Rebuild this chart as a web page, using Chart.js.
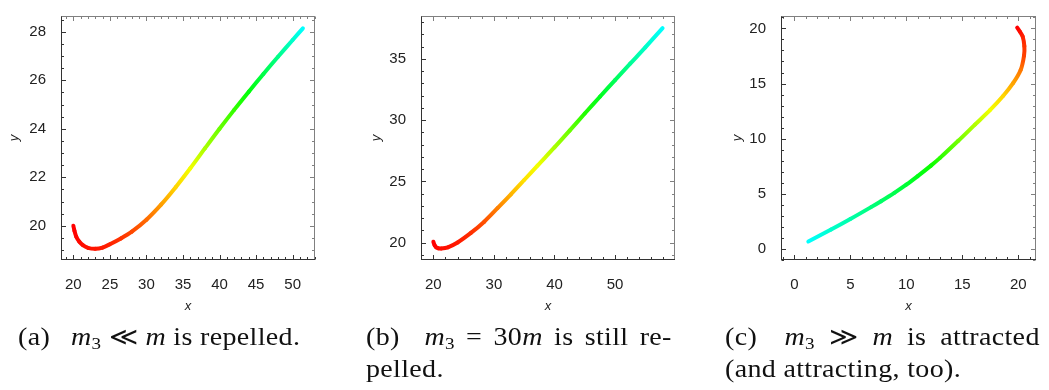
<!DOCTYPE html>
<html><head><meta charset="utf-8">
<script src="https://cdn.jsdelivr.net/npm/chart.js@4"></script>
<style>
body{margin:0;background:#fff;width:1049px;height:390px;overflow:hidden;position:relative;font-family:"Liberation Serif","DejaVu Serif",serif;}
canvas{position:absolute;left:0;top:0;}
.cap{position:absolute;font-size:25px;line-height:30px;color:#111;white-space:nowrap;letter-spacing:0.3px;transform:scaleX(1.12);transform-origin:0 0;}
.just{text-align:justify;text-align-last:justify;}
.m{font-style:italic;}
sub{font-size:17px;vertical-align:-4px;line-height:0;font-style:normal;}
.g{display:inline-block;width:12px;}
</style></head><body>
<canvas id="ca" width="1049" height="390"></canvas>
<canvas id="cb" width="1049" height="390"></canvas>
<canvas id="cc" width="1049" height="390"></canvas>
<div class="cap" style="left:18px;top:322px;">(a)<span class="g"></span> <span class="m">m</span><sub>3</sub> ≪ <span class="m">m</span> is repelled.</div>
<div class="cap just" style="left:366px;top:322px;width:273px;">(b)<span class="g"></span> <span class="m">m</span><sub>3</sub> = 30<span class="m">m</span> is still re-</div>
<div class="cap" style="left:366px;top:354px;">pelled.</div>
<div class="cap just" style="left:725px;top:322px;width:281px;">(c)<span class="g"></span> <span class="m">m</span><sub>3</sub> ≫ <span class="m">m</span> is attracted</div>
<div class="cap" style="left:725px;top:354px;">(and attracting, too).</div>
<script>
// ---- Panel (a) ----
const aX = [20.0, 20.15, 20.4, 20.8, 21.3, 22.0, 23.0, 24.0, 25.0, 26.5, 28.0, 30.0, 32.0, 34.0, 36.0, 38.0, 40.0, 42.0, 44.0, 46.0, 48.0, 50.0, 51.4];
const aY = [20.0, 19.8, 19.55, 19.35, 19.2, 19.09, 19.05, 19.1, 19.24, 19.48, 19.76, 20.25, 20.87, 21.59, 22.37, 23.19, 24.0, 24.78, 25.53, 26.26, 26.97, 27.66, 28.14];
const aHue = [0, 0, 1, 2, 3, 4, 5, 6, 8, 12, 17, 25, 37, 50, 63, 80, 95, 108, 122, 137, 152, 168, 180];
const aXTicks = [20, 25, 30, 35, 40, 45, 50];
const aYTicks = [20, 22, 24, 26, 28];

// ---- Panel (b) ----
const bX = [20.0, 20.2, 20.45, 20.8, 21.3, 22.4, 24.0, 26.2, 28.4, 30.6, 32.8, 35.0, 37.2, 40.0, 42.5, 45.0, 47.5, 50.0, 52.5, 55.0, 57.85];
const bY = [20.08, 19.8, 19.63, 19.55, 19.53, 19.63, 20.02, 20.8, 21.72, 22.82, 23.95, 25.12, 26.3, 27.78, 29.15, 30.55, 31.92, 33.28, 34.62, 35.95, 37.52];
const bHue = [0, 0, 1, 2, 3, 4, 6, 11, 19, 30, 42, 53, 63, 80, 95, 112, 127, 141, 155, 167, 180];
const bXTicks = [20, 30, 40, 50];
const bYTicks = [20, 25, 30, 35];

// ---- Panel (c) ----
const cX = [19.9, 20.15, 20.39, 20.54, 20.51, 20.21, 19.55, 18.66, 17.47, 16.13, 14.64, 13.01, 12.2, 11.02, 10.0, 8.93, 7.74, 6.85, 5.0, 3.28, 1.25];
const cY = [20.08, 19.7, 19.27, 18.4, 17.52, 16.22, 15.05, 13.89, 12.58, 11.27, 9.8, 8.25, 7.55, 6.6, 5.82, 5.08, 4.32, 3.78, 2.7, 1.74, 0.66];
const cHue = [0, 3, 7, 12, 15, 28, 38, 50, 63, 78, 93, 110, 117, 125, 132, 138, 144, 149, 160, 168, 180];
const cXTicks = [0, 5, 10, 15, 20];
const cYTicks = [0, 5, 10, 15, 20];

const hsl = h => `hsl(${h},100%,50%)`;

const framePlugin = {
  id: 'frame',
  afterDraw(chart) {
    const o = chart.options.plugins.frame;
    const {ctx, chartArea: A, scales: {x, y}} = chart;
    const L = Math.round(A.left) + 0.5, R = Math.round(A.right) - 0.5;
    const T = Math.round(A.top) + 0.5, B = Math.round(A.bottom) - 0.5;
    const minors = (s, step, majors) => {
      const out = [];
      for (let k = Math.ceil(s.min / step); k * step <= s.max + 1e-9; k++) {
        const v = +(k * step).toFixed(6);
        if (!majors.some(m => Math.abs(m - v) < 1e-6)) out.push(v);
      }
      return out;
    };
    const xm = minors(x, o.xMinor, o.xTicks), ym = minors(y, o.yMinor, o.yTicks);
    ctx.save();
    ctx.lineWidth = 1;
    const seg = (x1, y1, x2, y2, c) => { ctx.strokeStyle = c; ctx.beginPath(); ctx.moveTo(x1, y1); ctx.lineTo(x2, y2); ctx.stroke(); };
    const dark = '#333', light = '#808080';
    const MAJ = 4.5, MIN = 2.5;
    const xt = (vals, len) => vals.forEach(v => {
      const px = Math.round(x.getPixelForValue(v)) + 0.5;
      seg(px, B, px, B - len, dark);
      seg(px, T, px, T + len, light);
    });
    const yt = (vals, len) => vals.forEach(v => {
      const py = Math.round(y.getPixelForValue(v)) + 0.5;
      seg(L, py, L + len, py, dark);
      seg(R, py, R - len, py, light);
    });
    xt(o.xTicks, MAJ); xt(xm, MIN); yt(o.yTicks, MAJ); yt(ym, MIN);
    seg(L - 0.5, T, R + 0.5, T, light);
    seg(R, T, R, B, light);
    seg(L - 0.5, B, R + 0.5, B, dark);
    seg(L, T, L, B + 0.5, dark);
    ctx.restore();
  }
};

function makeChart(id, xs, ys, hues, xTicks, yTicks, xMinor, yMinor, xr, yr, box) {
  const pts = xs.map((v, i) => ({x: v, y: ys[i]}));
  const tickFont = {family: 'Liberation Sans', size: 15};
  const titleFont = {family: 'Liberation Sans', size: 13, style: 'italic'};
  return new Chart(document.getElementById(id), {
    type: 'scatter',
    data: {datasets: [{
      data: pts, showLine: true, pointRadius: 0, borderWidth: 4,
      tension: 0.3, borderCapStyle: 'round', borderJoinStyle: 'round',
      segment: {
        borderColor: c => {
          const g = c.chart.ctx.createLinearGradient(c.p0.x, c.p0.y, c.p1.x, c.p1.y);
          g.addColorStop(0, hsl(hues[c.p0DataIndex]));
          g.addColorStop(1, hsl(hues[c.p1DataIndex]));
          return g;
        }
      }
    }]},
    options: {
      responsive: false, animation: false, devicePixelRatio: 1,
      layout: {padding: {left: box.padL, right: 1049 - box.right, top: box.top, bottom: 390 - box.bottom - 55}},
      plugins: {legend: {display: false}, tooltip: {enabled: false},
        frame: {xTicks, yTicks, xMinor, yMinor}},
      scales: {
        x: {type: 'linear', position: 'bottom', min: xr[0], max: xr[1],
          afterBuildTicks: s => { s.ticks = xTicks.map(v => ({value: v})); },
          afterFit: s => { s.height = 55; },
          grid: {display: false}, border: {display: false},
          ticks: {font: tickFont, color: '#222', padding: 8, maxRotation: 0, autoSkip: false},
          title: {display: true, text: 'x', font: titleFont, color: '#222', padding: {top: 0, bottom: 1}}
        },
        y: {type: 'linear', position: 'left', min: yr[0], max: yr[1],
          afterBuildTicks: s => { s.ticks = yTicks.map(v => ({value: v})); },
          afterFit: s => { s.width = box.left - box.padL; },
          grid: {display: false}, border: {display: false},
          ticks: {font: tickFont, color: '#222', padding: 7, autoSkip: false},
          title: {display: true, text: 'y', font: titleFont, color: '#222', padding: {top: 7, bottom: 0}}
        }
      }
    },
    plugins: [framePlugin]
  });
}

makeChart('ca', aX, aY, aHue, aXTicks, aYTicks, 1, 0.5, [18.31, 53.06], [18.59, 28.65], {padL: 0, left: 61, right: 315, top: 6, bottom: 260});
makeChart('cb', bX, bY, bHue, bXTicks, bYTicks, 2, 1, [17.96, 59.9], [18.59, 38.51], {padL: 362, left: 421, right: 675, top: 6, bottom: 260});
makeChart('cc', cX, cY, cHue, cXTicks, cYTicks, 1, 1, [-1.19, 21.58], [-1.02, 21.13], {padL: 723, left: 781, right: 1036, top: 6, bottom: 260});
</script>
</body></html>
